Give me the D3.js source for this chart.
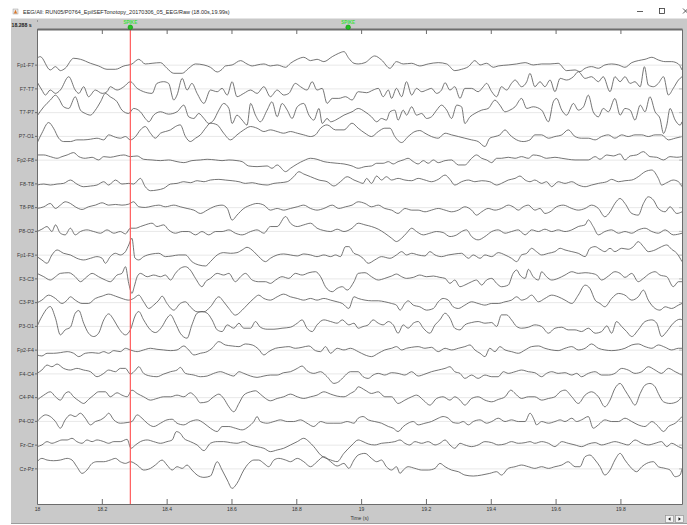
<!DOCTYPE html>
<html>
<head>
<meta charset="utf-8">
<script src="https://cdn.jsdelivr.net/npm/d3@7"></script>
<style>
  html, body { margin: 0; padding: 0; background: #fff; overflow: hidden; }
  svg { display: block; font-family: "Liberation Sans", Arial, sans-serif; }
</style>
</head>
<body>
<svg id="viewer" width="687" height="525"></svg>
<script>
// ---- Recording segment -------------------------------------------------
const figureTitle = "EEG/All: RUN05/P0764_EpilSEFTonotopy_20170306_05_EEG/Raw (18.00s,19.99s)";
const windowStart = 18.0;          // s
const windowEnd = 19.99;           // s
const cursorTime = 18.288;         // s
const timeTicks = [18, 18.2, 18.4, 18.6, 18.8, 19, 19.2, 19.4, 19.6, 19.8];
const eventLabels = ["SPIKE", "SPIKE"];
const eventTimes = [18.288, 18.96];

// Longitudinal bipolar montage, top to bottom
const channelLabels = ["Fp1-F7", "F7-T7", "T7-P7", "P7-O1", "Fp2-F8", "F8-T8", "T8-P8", "P8-O2",
  "Fp1-F3", "F3-C3", "C3-P3", "P3-O1", "Fp2-F4", "F4-C4", "C4-P4", "P4-O2", "Fz-Cz", "Cz-Pz"];

// Traces: [ms after window start, amplitude in µV]
const fp1_f7 = [[0,19],[10,24],[41,-16],[57,-6],[72,-18],[87,-11],[113,19],[134,16],[165,4],[190,-4],[216,-14],[242,-14],[268,-4],[293,2],[314,16],[334,2],[355,4],[381,6],[401,-11],[422,-26],[448,-26],[468,-11],[489,2],[515,-1],[535,-8],[556,-22],[571,-14],[581,-4],[602,-1],[628,12],[648,2],[664,-4],[679,-1],[700,2],[720,-4],[741,-1],[767,-8],[782,4],[803,16],[823,22],[844,12],[864,16],[885,9],[911,24],[931,34],[947,39],[962,19],[978,4],[991,2],[1012,6],[1042,26],[1063,14],[1089,-11],[1109,9],[1130,2],[1156,4],[1181,-4],[1207,2],[1238,6],[1264,2],[1289,-18],[1310,-14],[1331,-6],[1351,12],[1367,-1],[1387,4],[1408,-8],[1423,-4],[1454,-1],[1480,2],[1506,6],[1531,-1],[1557,2],[1583,2],[1608,4],[1634,-18],[1660,-16],[1675,-21],[1691,-11],[1711,-6],[1732,-11],[1752,-1],[1773,2],[1794,-1],[1814,-8],[1835,6],[1855,12],[1876,16],[1897,22],[1917,14],[1938,9],[1958,9],[1979,2],[1990,-16]];
const f7_t7 = [[0,20],[15,-5],[26,-20],[41,-5],[57,-15],[72,-5],[98,35],[118,-5],[129,-15],[144,5],[159,-25],[180,-5],[201,-15],[216,-10],[226,5],[247,-5],[268,5],[288,20],[309,0],[329,-10],[355,-15],[370,15],[391,20],[406,15],[422,-35],[432,-20],[448,30],[463,-5],[478,15],[494,-15],[515,-45],[535,-5],[556,-10],[571,0],[587,-20],[602,20],[617,-25],[638,-15],[659,-5],[679,-15],[700,5],[720,-25],[741,-5],[761,-20],[777,-15],[797,15],[813,5],[833,-5],[849,20],[864,-5],[880,0],[895,-45],[911,-30],[931,-30],[952,-25],[972,-35],[991,-10],[1017,-13],[1037,-5],[1053,0],[1068,-25],[1084,-5],[1094,-30],[1109,0],[1125,-25],[1140,20],[1156,-20],[1171,0],[1187,-10],[1202,-5],[1217,0],[1233,-15],[1248,-5],[1259,17],[1274,-5],[1289,5],[1305,-30],[1320,0],[1341,0],[1361,-10],[1377,5],[1387,15],[1403,-10],[1418,-25],[1433,5],[1449,-5],[1464,15],[1475,25],[1495,5],[1511,20],[1521,45],[1536,5],[1552,20],[1567,5],[1583,25],[1598,-10],[1614,30],[1634,25],[1655,35],[1670,50],[1691,30],[1711,35],[1732,20],[1747,35],[1768,-10],[1783,35],[1799,20],[1814,35],[1830,15],[1845,20],[1861,5],[1874,65],[1886,10],[1902,5],[1917,15],[1933,35],[1948,-20],[1963,0],[1979,25],[1990,35]];
const t7_p7 = [[0,-12],[21,16],[41,36],[57,51],[67,41],[82,16],[98,11],[118,46],[134,6],[149,-4],[165,-9],[180,6],[196,31],[211,56],[226,46],[247,31],[262,6],[283,-4],[298,11],[319,1],[334,-19],[345,-29],[360,-9],[381,1],[406,-6],[432,1],[453,21],[468,-14],[484,-19],[499,-4],[515,-19],[530,-34],[545,-24],[561,6],[576,26],[592,11],[602,-34],[617,-9],[633,-24],[648,-39],[659,26],[674,-9],[689,-29],[710,6],[725,31],[741,-14],[756,26],[772,6],[787,-19],[803,16],[823,26],[839,-9],[854,-24],[870,11],[880,-34],[895,-19],[906,-29],[921,-24],[947,-9],[972,1],[991,11],[1012,1],[1032,-14],[1048,-29],[1063,-19],[1078,-24],[1089,1],[1104,6],[1114,-24],[1130,6],[1140,-9],[1156,16],[1171,-9],[1187,-4],[1202,-19],[1217,-14],[1233,6],[1248,21],[1264,6],[1279,-19],[1295,21],[1310,16],[1320,-34],[1336,-14],[1351,-4],[1372,6],[1392,11],[1413,36],[1428,21],[1444,1],[1459,6],[1475,16],[1495,41],[1511,11],[1531,16],[1557,6],[1578,-29],[1593,31],[1603,41],[1619,6],[1634,-9],[1655,26],[1670,6],[1686,16],[1701,51],[1716,1],[1732,-14],[1747,11],[1763,1],[1783,41],[1799,-9],[1814,11],[1830,6],[1845,-24],[1861,21],[1876,1],[1891,46],[1907,1],[1922,-19],[1933,-64],[1943,-39],[1953,11],[1969,-24],[1984,-39],[1990,-29]];
const p7_o1 = [[0,-22],[15,8],[36,40],[51,23],[67,-7],[82,-17],[103,-17],[123,-12],[144,-12],[165,-10],[185,-7],[206,-12],[221,3],[242,-4],[257,-7],[273,-2],[288,-12],[304,-2],[319,18],[334,28],[350,8],[365,-7],[381,8],[396,13],[412,18],[427,28],[442,33],[458,-2],[473,-17],[489,-7],[504,3],[520,23],[535,38],[556,33],[576,8],[597,-12],[617,3],[638,18],[659,28],[679,23],[700,13],[720,18],[741,13],[761,8],[782,13],[803,8],[823,3],[844,-2],[859,3],[875,23],[895,33],[921,18],[947,18],[972,38],[991,23],[1012,8],[1032,-2],[1053,13],[1073,23],[1089,23],[1104,-2],[1125,-20],[1145,-2],[1166,13],[1181,16],[1197,8],[1217,-2],[1238,-7],[1259,8],[1279,3],[1300,-2],[1320,-7],[1341,-12],[1361,-17],[1382,-32],[1397,-7],[1413,-2],[1428,3],[1444,18],[1459,3],[1480,-12],[1500,-17],[1521,-12],[1536,3],[1557,3],[1578,-7],[1598,-2],[1619,3],[1639,18],[1660,-2],[1680,-7],[1701,-7],[1722,-12],[1742,-2],[1763,3],[1783,-7],[1804,3],[1824,-2],[1845,3],[1866,3],[1886,-2],[1907,3],[1927,3],[1948,-12],[1969,-7],[1990,-2]];
const fp2_f8 = [[0,14],[21,14],[41,9],[62,4],[77,9],[93,14],[113,21],[129,9],[149,4],[170,7],[190,-1],[206,9],[226,7],[247,11],[268,14],[288,9],[309,11],[329,1],[355,-1],[381,-3],[406,-1],[432,-6],[453,-9],[478,-3],[504,-1],[525,1],[551,-1],[571,-3],[592,-1],[617,-3],[633,-6],[653,-19],[679,-21],[710,-19],[725,-26],[741,-16],[767,-36],[782,-26],[803,-13],[823,-3],[844,4],[864,1],[885,-6],[906,-9],[926,-11],[947,-13],[972,-19],[991,-26],[1012,-21],[1032,-19],[1048,-11],[1068,-11],[1084,-6],[1099,-13],[1114,-6],[1130,-1],[1145,4],[1161,-6],[1176,-13],[1192,-3],[1207,-11],[1223,-1],[1238,-9],[1259,-3],[1279,-1],[1300,-16],[1320,-16],[1341,4],[1356,14],[1372,4],[1387,-1],[1403,-9],[1418,4],[1433,4],[1454,7],[1475,4],[1495,9],[1516,4],[1531,14],[1552,11],[1572,4],[1598,7],[1619,4],[1639,1],[1660,-1],[1675,-1],[1701,-1],[1722,9],[1737,1],[1758,14],[1778,11],[1799,17],[1814,-1],[1830,11],[1850,14],[1871,24],[1891,9],[1912,7],[1933,-1],[1953,9],[1974,7],[1990,9]];
const f8_t8 = [[0,-5],[21,-2],[41,-5],[62,-2],[82,0],[103,10],[123,-2],[144,-10],[165,-8],[185,-5],[206,5],[221,-5],[242,10],[262,-2],[283,0],[298,-2],[319,15],[334,-10],[350,-22],[370,-20],[391,-15],[412,-2],[432,0],[453,5],[473,2],[494,8],[515,5],[535,10],[561,12],[581,10],[602,8],[623,5],[643,0],[664,2],[684,-2],[710,-5],[731,0],[751,2],[772,5],[792,20],[808,35],[823,28],[844,20],[870,10],[895,5],[916,-8],[936,5],[957,20],[978,10],[991,5],[1006,0],[1017,15],[1032,0],[1048,22],[1063,10],[1078,20],[1094,10],[1114,15],[1135,10],[1156,8],[1176,15],[1197,10],[1217,5],[1238,12],[1259,25],[1274,12],[1289,-5],[1310,5],[1331,10],[1351,5],[1372,8],[1397,5],[1418,-5],[1433,0],[1454,10],[1475,15],[1490,22],[1506,10],[1521,5],[1536,10],[1557,0],[1572,5],[1588,-10],[1608,5],[1629,0],[1650,5],[1670,-5],[1691,-10],[1711,-5],[1732,0],[1758,5],[1773,12],[1794,5],[1814,8],[1835,10],[1855,20],[1876,35],[1897,40],[1917,15],[1927,-5],[1943,2],[1963,10],[1979,5],[1990,-10]];
const t8_p8 = [[0,-4],[21,1],[41,11],[57,-4],[72,6],[87,16],[103,11],[118,1],[139,-7],[159,1],[180,6],[201,13],[221,6],[242,8],[262,6],[283,9],[298,16],[314,1],[334,-1],[355,3],[376,6],[396,1],[422,6],[442,1],[463,-4],[484,-9],[504,-19],[525,-9],[545,1],[571,6],[587,-4],[602,-39],[617,-24],[638,-4],[659,6],[679,11],[700,6],[720,-9],[741,-4],[761,-9],[782,-4],[803,1],[823,6],[844,-4],[864,-9],[885,-4],[911,6],[931,-4],[952,1],[972,6],[991,16],[1012,11],[1032,1],[1053,6],[1073,-4],[1094,-9],[1114,-19],[1135,-4],[1156,-9],[1176,-9],[1197,-14],[1217,-9],[1238,-4],[1259,-9],[1279,-14],[1300,-9],[1320,1],[1341,-9],[1356,-24],[1372,-14],[1392,-4],[1413,-9],[1433,-4],[1454,6],[1469,1],[1485,-9],[1500,1],[1516,6],[1536,-9],[1552,-4],[1567,-19],[1583,-14],[1603,1],[1624,6],[1650,-4],[1670,-9],[1691,-4],[1711,6],[1732,-4],[1752,-29],[1768,-14],[1783,11],[1799,26],[1814,11],[1835,-19],[1855,-24],[1871,11],[1886,31],[1902,21],[1917,-4],[1938,-14],[1953,1],[1974,-19],[1990,-14]];
const p8_o2 = [[0,-2],[15,5],[31,13],[46,-2],[57,18],[72,-7],[87,-12],[103,8],[118,-12],[134,-2],[154,3],[175,-2],[196,-7],[216,3],[237,-7],[257,-2],[273,-9],[288,8],[304,8],[319,13],[334,18],[355,23],[370,13],[391,18],[406,3],[427,-7],[448,-2],[468,-2],[489,-12],[509,-2],[530,-12],[551,-2],[571,-2],[592,3],[612,-7],[633,-12],[659,-2],[679,3],[700,-7],[720,13],[741,13],[767,43],[782,23],[803,13],[823,18],[844,23],[864,8],[885,1],[906,-2],[926,5],[947,-2],[972,8],[991,23],[1012,18],[1032,13],[1053,5],[1073,-7],[1094,-22],[1109,-32],[1125,-22],[1140,-7],[1156,8],[1171,-2],[1192,-12],[1212,-7],[1233,-2],[1253,-5],[1274,-17],[1295,-12],[1310,-2],[1325,3],[1341,-17],[1361,-27],[1382,-17],[1403,-2],[1423,3],[1444,-7],[1464,-2],[1485,3],[1506,-12],[1526,3],[1547,-2],[1567,5],[1588,-2],[1608,3],[1629,-2],[1650,3],[1670,13],[1691,18],[1701,33],[1716,13],[1732,-12],[1752,-2],[1773,3],[1794,-7],[1814,-2],[1835,-7],[1855,3],[1876,8],[1897,-2],[1917,-7],[1938,3],[1963,-12],[1990,-7]];
const fp1_f3 = [[0,-6],[15,-16],[31,-26],[46,-1],[62,14],[82,4],[103,-1],[123,-11],[144,-16],[165,-11],[185,-6],[201,-11],[211,-26],[226,-6],[242,4],[257,-1],[273,9],[283,29],[293,49],[302,-10],[314,-16],[329,-6],[355,2],[376,4],[396,-6],[417,-4],[437,-1],[458,-1],[478,-21],[499,-31],[520,-34],[535,-21],[556,-1],[576,6],[597,4],[617,6],[633,14],[648,22],[669,9],[684,-6],[705,-21],[720,-11],[741,-1],[761,2],[782,-1],[803,-4],[823,2],[844,-1],[864,-6],[885,-1],[906,-6],[921,-1],[936,-6],[952,24],[962,24],[978,4],[991,-1],[1006,-11],[1022,-26],[1042,-16],[1063,-6],[1089,-11],[1109,-1],[1125,9],[1140,-1],[1156,4],[1176,-1],[1197,-4],[1212,9],[1228,-1],[1248,-6],[1269,-1],[1289,2],[1310,4],[1331,-11],[1346,-1],[1367,-11],[1382,-1],[1403,-6],[1423,6],[1444,-1],[1464,-11],[1480,-21],[1495,-1],[1511,4],[1526,19],[1541,9],[1557,-1],[1578,4],[1598,9],[1614,19],[1629,14],[1650,9],[1670,4],[1691,-6],[1706,19],[1722,24],[1737,16],[1752,9],[1768,19],[1783,9],[1804,19],[1824,16],[1840,24],[1855,39],[1871,24],[1886,9],[1907,14],[1927,24],[1943,29],[1958,16],[1974,4],[1990,-21]];
const f3_c3 = [[0,15],[21,5],[41,-5],[57,5],[72,15],[98,17],[118,5],[134,-10],[154,5],[170,15],[190,5],[211,-5],[226,-10],[247,10],[262,15],[273,35],[283,-15],[293,-45],[300,-25],[309,5],[319,15],[340,5],[360,10],[381,5],[396,10],[412,-5],[427,15],[442,30],[458,35],[473,25],[489,0],[509,-25],[520,-10],[535,0],[556,15],[576,10],[592,15],[612,-10],[628,5],[643,15],[664,-5],[684,-10],[705,-10],[720,-15],[736,-5],[756,5],[777,0],[797,15],[818,10],[839,17],[859,20],[875,5],[890,-25],[911,-40],[926,-30],[942,-25],[957,-35],[978,-10],[991,15],[1012,17],[1032,5],[1053,-5],[1073,0],[1094,7],[1109,13],[1125,5],[1140,0],[1161,3],[1181,10],[1202,5],[1223,7],[1243,3],[1259,0],[1274,-15],[1289,-5],[1305,-25],[1320,-20],[1341,-10],[1356,-5],[1372,-20],[1387,-5],[1403,0],[1418,-15],[1433,-25],[1454,-20],[1469,15],[1480,25],[1490,10],[1506,0],[1516,27],[1531,5],[1547,-5],[1557,20],[1572,5],[1588,-5],[1608,0],[1629,10],[1650,20],[1670,15],[1691,17],[1711,15],[1727,10],[1742,-5],[1763,7],[1783,20],[1799,15],[1814,3],[1835,15],[1855,-10],[1871,0],[1891,15],[1907,20],[1922,10],[1943,5],[1963,-25],[1979,-10],[1990,-10]];
const c3_p3 = [[0,-2],[15,6],[36,21],[57,11],[77,-4],[93,6],[103,16],[118,6],[139,-4],[159,-4],[180,11],[201,18],[221,24],[242,18],[262,11],[283,6],[298,11],[314,21],[329,1],[345,-19],[360,-9],[376,6],[386,18],[401,-4],[422,-24],[442,-4],[458,1],[473,-14],[494,-29],[515,-29],[535,-14],[561,16],[576,1],[592,-19],[612,-39],[633,-24],[648,-9],[669,11],[684,21],[700,11],[720,6],[741,16],[761,24],[782,16],[803,11],[823,6],[844,11],[864,6],[885,11],[906,6],[926,1],[942,-4],[962,-19],[978,16],[991,11],[1012,6],[1032,4],[1053,4],[1073,1],[1094,-4],[1109,-9],[1120,-24],[1135,-4],[1145,4],[1161,-9],[1181,-14],[1202,-24],[1223,-19],[1238,1],[1253,11],[1269,6],[1284,-14],[1300,-19],[1320,-9],[1341,1],[1361,-4],[1382,-9],[1403,-4],[1423,-4],[1444,1],[1464,6],[1480,16],[1495,6],[1511,11],[1526,21],[1547,1],[1567,11],[1588,21],[1608,16],[1629,6],[1650,-4],[1670,21],[1691,51],[1706,41],[1722,6],[1737,-4],[1752,-14],[1773,11],[1794,26],[1814,21],[1835,6],[1855,16],[1871,36],[1886,6],[1907,-19],[1922,-24],[1938,-14],[1958,-19],[1979,-9],[1990,-4]];
const p3_o1 = [[0,-2],[15,28],[41,58],[57,23],[72,-27],[87,-12],[103,-4],[118,38],[129,46],[144,8],[159,-22],[175,-32],[190,-22],[206,18],[221,36],[237,18],[252,-7],[273,-27],[288,-12],[304,33],[314,43],[329,18],[350,-12],[365,-20],[386,-2],[401,23],[412,33],[427,8],[442,-22],[463,-37],[478,3],[494,38],[509,43],[525,38],[540,18],[556,-12],[571,-17],[587,3],[607,-7],[623,8],[638,-7],[659,-7],[674,13],[689,-4],[710,-10],[731,-10],[756,-7],[782,-4],[803,8],[818,18],[833,-7],[849,-17],[864,3],[885,18],[906,13],[926,8],[942,18],[962,3],[978,8],[991,-7],[1006,-2],[1022,3],[1037,18],[1053,8],[1068,3],[1084,13],[1099,3],[1114,-22],[1130,3],[1145,-7],[1161,8],[1176,13],[1192,-7],[1212,-22],[1228,3],[1243,18],[1259,38],[1274,23],[1289,-7],[1305,-12],[1320,3],[1341,10],[1361,13],[1382,8],[1403,10],[1418,-2],[1433,33],[1449,33],[1464,18],[1480,-2],[1495,-7],[1516,-4],[1536,3],[1557,-2],[1578,-22],[1598,-7],[1619,-4],[1639,-12],[1660,-12],[1680,-17],[1701,-7],[1722,-22],[1742,-17],[1758,0],[1773,-22],[1788,13],[1804,-2],[1819,-17],[1835,-32],[1855,-12],[1876,13],[1897,18],[1912,8],[1927,-32],[1943,-17],[1963,8],[1984,20],[1990,18]];
const fp2_f4 = [[0,-16],[15,-19],[31,-11],[51,-11],[72,-9],[93,-6],[113,-11],[129,-21],[149,-11],[170,-9],[190,-11],[206,-6],[221,-11],[237,-3],[257,-6],[273,4],[288,-1],[309,-6],[329,-1],[350,4],[370,1],[391,-1],[412,-3],[432,-1],[453,11],[468,-1],[484,-16],[504,-11],[525,-6],[540,4],[561,24],[581,14],[602,11],[623,9],[643,17],[664,14],[684,1],[700,-16],[715,-6],[736,4],[756,7],[777,9],[797,4],[818,7],[839,11],[859,-3],[875,-6],[890,9],[906,-11],[926,4],[947,-1],[967,4],[991,-6],[1012,-16],[1032,-21],[1053,-11],[1073,-1],[1094,4],[1109,9],[1125,-1],[1140,4],[1156,7],[1176,9],[1197,4],[1217,7],[1238,-6],[1259,4],[1279,-1],[1300,4],[1320,9],[1336,14],[1351,-1],[1367,-11],[1382,-21],[1397,4],[1413,-6],[1428,9],[1444,-1],[1464,-6],[1485,-11],[1506,-1],[1526,9],[1547,11],[1567,4],[1588,-1],[1608,-3],[1629,4],[1650,9],[1670,-1],[1691,4],[1711,17],[1732,4],[1752,-1],[1773,-3],[1794,-1],[1814,4],[1835,14],[1855,17],[1876,9],[1897,4],[1917,14],[1938,7],[1958,-1],[1979,4],[1990,4]];
const f4_c4 = [[0,0],[15,10],[31,25],[46,20],[62,28],[82,15],[103,10],[123,15],[144,10],[165,5],[185,-10],[206,0],[221,10],[242,5],[257,15],[273,15],[288,-2],[304,10],[314,20],[329,0],[350,-8],[370,-10],[391,-2],[412,5],[432,10],[442,18],[458,0],[484,-5],[504,-10],[525,-8],[545,0],[566,5],[587,-2],[607,-8],[623,5],[638,0],[659,-8],[679,-12],[700,-8],[720,-5],[741,-5],[761,2],[782,5],[803,15],[818,22],[833,8],[854,0],[875,5],[895,-10],[916,-30],[931,-25],[947,-10],[967,5],[991,5],[1006,-10],[1022,-15],[1037,-5],[1053,0],[1073,-5],[1094,2],[1114,0],[1135,-5],[1156,5],[1176,-8],[1197,-2],[1217,5],[1238,10],[1259,15],[1274,20],[1289,5],[1305,0],[1320,-15],[1341,-5],[1361,-15],[1382,-5],[1403,-10],[1423,-10],[1439,5],[1454,0],[1475,5],[1495,10],[1516,5],[1536,2],[1557,-10],[1572,0],[1588,5],[1608,0],[1629,2],[1650,-5],[1665,0],[1680,-10],[1701,0],[1722,5],[1742,-5],[1763,-5],[1783,0],[1804,15],[1824,10],[1845,0],[1866,5],[1886,20],[1907,10],[1927,0],[1948,15],[1969,5],[1990,-5]];
const c4_p4 = [[0,-9],[21,6],[41,16],[57,1],[72,-9],[87,11],[98,16],[113,1],[129,-11],[144,-19],[159,-7],[175,6],[190,16],[211,16],[226,1],[247,13],[262,6],[278,1],[293,21],[309,11],[329,1],[350,-9],[370,-4],[391,1],[412,1],[432,6],[453,1],[473,13],[489,1],[504,-17],[525,-14],[545,1],[561,9],[576,-4],[592,-29],[607,-44],[623,-19],[638,6],[659,16],[674,19],[689,9],[705,-4],[720,-11],[741,-4],[761,1],[782,9],[803,1],[823,-4],[844,1],[864,6],[885,16],[906,9],[926,3],[947,1],[967,11],[983,21],[991,31],[1012,21],[1032,11],[1053,16],[1073,1],[1094,1],[1114,-19],[1135,-9],[1156,1],[1171,6],[1192,-9],[1212,-24],[1233,-4],[1253,1],[1274,-9],[1289,1],[1305,-9],[1320,-24],[1341,-4],[1361,1],[1382,-9],[1403,-14],[1423,-7],[1444,1],[1462,21],[1475,11],[1495,-4],[1516,1],[1536,1],[1557,-9],[1578,-4],[1598,1],[1614,16],[1629,21],[1650,1],[1670,-19],[1691,6],[1711,16],[1732,1],[1752,-29],[1768,-9],[1783,26],[1799,41],[1814,21],[1830,-4],[1845,-24],[1861,11],[1876,36],[1891,41],[1907,31],[1917,11],[1933,-14],[1953,-19],[1974,-14],[1990,1]];
const p4_o2 = [[0,-2],[10,8],[26,18],[41,13],[57,-2],[72,-22],[87,3],[103,18],[118,13],[134,23],[149,8],[165,-12],[180,-2],[196,3],[211,13],[221,23],[237,3],[257,-7],[278,-5],[293,-2],[309,18],[324,8],[340,-7],[360,-17],[381,-7],[401,3],[417,5],[432,-7],[453,-12],[473,-2],[494,3],[515,-7],[535,-22],[556,-32],[571,-17],[592,-17],[612,-22],[633,-27],[653,-17],[669,-2],[679,13],[689,-2],[710,-7],[731,-2],[751,3],[772,-2],[792,-2],[813,3],[833,-7],[854,-17],[875,-2],[895,-7],[916,-7],[936,-7],[957,-2],[978,-7],[991,8],[1006,13],[1022,3],[1042,-2],[1063,-7],[1084,-17],[1099,-22],[1114,-32],[1130,-17],[1145,-7],[1161,-2],[1176,-12],[1197,-7],[1217,-2],[1238,8],[1253,13],[1269,8],[1284,-5],[1300,-7],[1315,-2],[1331,-12],[1346,-2],[1367,3],[1387,-7],[1403,-2],[1423,8],[1444,-2],[1464,3],[1485,-2],[1506,-2],[1521,23],[1534,3],[1541,-12],[1557,-2],[1578,-7],[1598,-2],[1614,3],[1629,-2],[1650,8],[1665,-2],[1680,3],[1701,13],[1716,-22],[1732,-12],[1752,3],[1773,-2],[1794,-2],[1814,8],[1835,-2],[1855,-12],[1876,-17],[1897,-2],[1917,-17],[1933,-32],[1948,-17],[1969,-7],[1990,13]];
const fz_cz = [[0,-6],[15,-1],[31,9],[46,4],[62,9],[77,14],[93,14],[108,19],[123,9],[139,4],[154,14],[170,9],[185,14],[206,9],[221,4],[237,9],[257,9],[278,16],[290,-11],[304,-1],[319,9],[340,14],[360,9],[381,4],[401,9],[417,14],[430,39],[442,34],[453,19],[473,9],[494,-1],[515,-18],[535,4],[556,9],[576,9],[597,6],[617,4],[638,9],[659,-1],[679,-6],[700,-11],[720,-21],[741,-16],[761,-11],[782,-1],[803,9],[823,19],[839,9],[854,-6],[875,-31],[906,-46],[926,-51],[947,-26],[972,-1],[991,14],[1006,9],[1022,2],[1042,-1],[1063,4],[1084,6],[1104,9],[1120,14],[1135,4],[1150,-1],[1166,9],[1187,4],[1207,9],[1228,-1],[1243,4],[1259,14],[1274,-1],[1289,-11],[1305,4],[1320,-1],[1341,-6],[1361,-1],[1382,9],[1403,6],[1423,-1],[1444,2],[1464,9],[1485,4],[1506,6],[1521,9],[1536,4],[1557,9],[1578,4],[1598,-6],[1619,9],[1639,4],[1660,-1],[1680,-6],[1701,2],[1722,6],[1742,-1],[1763,4],[1783,9],[1804,4],[1824,-1],[1845,14],[1866,4],[1886,-1],[1907,4],[1927,9],[1943,-6],[1958,4],[1979,-6],[1990,-11]];
const cz_pz = [[0,20],[15,30],[31,25],[51,23],[72,25],[93,30],[108,25],[123,5],[139,-15],[154,-5],[170,15],[185,20],[206,20],[226,25],[242,30],[257,20],[273,15],[288,20],[309,10],[329,-5],[350,0],[365,10],[386,25],[401,10],[417,-5],[432,5],[448,0],[463,10],[478,-5],[494,-20],[515,-27],[535,-23],[556,20],[571,-5],[587,-35],[602,-60],[617,-45],[638,-5],[653,15],[669,25],[684,25],[700,15],[715,5],[731,25],[746,30],[767,25],[782,20],[803,30],[823,20],[844,5],[864,20],[885,35],[906,20],[926,7],[947,15],[962,0],[978,25],[991,40],[1012,45],[1032,30],[1048,20],[1063,25],[1078,5],[1094,-5],[1109,5],[1120,-15],[1130,-5],[1145,5],[1166,0],[1187,-5],[1207,-5],[1228,0],[1243,15],[1259,5],[1279,-5],[1300,-10],[1320,-20],[1346,-23],[1372,-20],[1397,-15],[1418,-10],[1433,-20],[1454,0],[1475,5],[1495,10],[1516,5],[1536,0],[1557,5],[1578,0],[1598,5],[1619,10],[1639,20],[1660,5],[1675,5],[1691,35],[1706,40],[1722,25],[1737,5],[1752,-20],[1768,-5],[1783,25],[1799,45],[1814,25],[1830,5],[1850,-10],[1866,5],[1881,15],[1902,20],[1917,5],[1938,0],[1953,-5],[1969,-25],[1984,-20],[1990,0]];

const traces = [fp1_f7, f7_t7, t7_p7, p7_o1, fp2_f8, f8_t8, t8_p8, p8_o2,
  fp1_f3, f3_c3, c3_p3, p3_o1, fp2_f4, f4_c4, c4_p4, p4_o2, fz_cz, cz_pz];

// ---- Layout ------------------------------------------------------------
const W = 687, H = 525;
const plot = { left: 37, right: 682, top: 29, bottom: 504 };
const panelGrey = "#c9c9c9";
const axisGrey = "#6c6c6c";
const traceColor = "#5c5c5c";

const svg = d3.select("#viewer");

const x = d3.scaleLinear().domain([windowStart, windowEnd]).range([plot.left, plot.right]);
// one row per channel, with 1.5 empty rows above and below the montage
const row = d3.scaleLinear().domain([-1.5, channelLabels.length + 0.5]).range([plot.top, plot.bottom]);
// display gain: 3 µV per pixel, positive up
const amp = d3.scaleLinear().domain([-3, 3]).range([1, -1]);

// ---- Window chrome -----------------------------------------------------
svg.append("rect").attr("width", W).attr("height", H).attr("fill", "#ffffff");
svg.append("rect").attr("x", 11).attr("y", 18.5).attr("width", W - 11).attr("height", 505.5).attr("fill", panelGrey);
svg.append("line").attr("x1", 11).attr("x2", W).attr("y1", 523.5).attr("y2", 523.5).attr("stroke", "#9c9c9c");

// title bar
const icon = svg.append("g").attr("transform", "translate(13,9)");
icon.append("rect").attr("width", 5).attr("height", 5).attr("fill", "#e8e8e8").attr("stroke", "#8a8a8a").attr("stroke-width", 0.4);
icon.append("path").attr("d", "M0.8,4.4 L2.5,0.8 L4.2,4.4 Z").attr("fill", "#d9772b");
svg.append("text").attr("x", 23).attr("y", 13.8).attr("font-size", 5.5).attr("fill", "#2a2a2a")
  .text(figureTitle);
svg.append("line").attr("x1", 637).attr("x2", 643).attr("y1", 11.5).attr("y2", 11.5).attr("stroke", "#333").attr("stroke-width", 0.8);
svg.append("rect").attr("x", 659.5).attr("y", 8.5).attr("width", 5).attr("height", 5).attr("fill", "none").attr("stroke", "#333").attr("stroke-width", 0.8);
svg.append("path").attr("d", "M683,8.5 L688,13.5 M688,8.5 L683,13.5").attr("stroke", "#333").attr("stroke-width", 0.8);

// ---- Plot area ---------------------------------------------------------
svg.append("rect").attr("x", plot.left).attr("y", plot.top)
  .attr("width", plot.right - plot.left).attr("height", plot.bottom - plot.top).attr("fill", "#ffffff");

// channel baselines
svg.append("g").selectAll("line").data(channelLabels).join("line")
  .attr("x1", plot.left).attr("x2", plot.right)
  .attr("y1", (d, i) => row(i) + 0.5).attr("y2", (d, i) => row(i) + 0.5)
  .attr("stroke", "#e8e8e8").attr("stroke-width", 1);

svg.append("clipPath").attr("id", "plot-clip").append("rect")
  .attr("x", plot.left).attr("y", plot.top)
  .attr("width", plot.right - plot.left).attr("height", plot.bottom - plot.top);

const traceLayer = svg.append("g").attr("clip-path", "url(#plot-clip)");
traces.forEach((samples, i) => {
  const line = d3.line()
    .x(d => x(windowStart + d[0] / 1000))
    .y(d => row(i) + amp(d[1]))
    .curve(d3.curveMonotoneX);
  traceLayer.append("path")
    .attr("d", line(samples))
    .attr("fill", "none")
    .attr("stroke", traceColor)
    .attr("stroke-width", 0.85)
    .attr("stroke-linejoin", "round");
});

// time cursor
svg.append("line")
  .attr("x1", x(cursorTime)).attr("x2", x(cursorTime))
  .attr("y1", plot.top).attr("y2", plot.bottom)
  .attr("stroke", "#ff5b5b").attr("stroke-width", 1.2);

// ---- Axes --------------------------------------------------------------
const fmt = d => String(+d.toFixed(1));

const bottomAxis = svg.append("g").attr("transform", `translate(0,${plot.bottom})`)
  .call(d3.axisBottom(x).tickValues(timeTicks).tickFormat(fmt).tickSizeInner(-5).tickSizeOuter(0).tickPadding(3));
bottomAxis.selectAll("text").attr("font-size", 5).attr("fill", "#333");

const topAxis = svg.append("g").attr("transform", `translate(0,${plot.top})`)
  .call(d3.axisBottom(x).tickValues(timeTicks).tickFormat("").tickSizeInner(5).tickSizeOuter(0));
topAxis.select(".domain").attr("stroke-width", 2);

const leftAxis = svg.append("g").attr("transform", `translate(${plot.left},0)`)
  .call(d3.axisLeft(row).tickValues(d3.range(channelLabels.length)).tickFormat(i => channelLabels[i])
    .tickSizeInner(2).tickSizeOuter(0).tickPadding(1));
leftAxis.selectAll("text").attr("font-size", 5.3).attr("fill", "#3a3a3a");

const rightAxis = svg.append("g").attr("transform", `translate(${plot.right},0)`)
  .call(d3.axisLeft(row).tickValues(d3.range(channelLabels.length)).tickFormat("").tickSizeInner(3).tickSizeOuter(0));
rightAxis.selectAll(".tick line").attr("stroke", "#bdbdbd");

[bottomAxis, topAxis, leftAxis, rightAxis].forEach(g => {
  g.select(".domain").attr("stroke", axisGrey);
  g.attr("font-family", null);
});
bottomAxis.selectAll(".tick line").attr("stroke", axisGrey);
topAxis.selectAll(".tick line").attr("stroke", axisGrey);
leftAxis.selectAll(".tick line").attr("stroke", axisGrey);

// small mark at the start of the time strip
svg.append("line").attr("x1", plot.left + 0.5).attr("x2", plot.left + 0.5).attr("y1", 20).attr("y2", 22)
  .attr("stroke", "#777").attr("stroke-width", 0.6);

svg.append("text").attr("x", (plot.left + plot.right) / 2).attr("y", 519.5)
  .attr("text-anchor", "middle").attr("font-size", 5).attr("fill", "#333").text("Time (s)");

// ---- Cursor readout and event markers ---------------------------------
svg.append("text").attr("x", 11.5).attr("y", 26.5).attr("font-size", 5.2).attr("font-weight", "bold")
  .attr("fill", "#222").text(`${cursorTime.toFixed(3)} s`);

const events = svg.append("g").selectAll("g").data(eventTimes).join("g")
  .attr("transform", t => `translate(${x(t)},0)`);
events.append("text").attr("y", 23.8).attr("text-anchor", "middle").attr("font-size", 4.6)
  .attr("font-weight", "bold").attr("fill", "#3fe03f").text((t, i) => eventLabels[i]);
events.append("circle").attr("cy", 27.3).attr("r", 2.3)
  .attr("fill", "#1fc41f").attr("stroke", "#138a13").attr("stroke-width", 0.6);

// ---- Page buttons ------------------------------------------------------
const buttons = svg.append("g").selectAll("g").data(["left", "right"]).join("g")
  .attr("transform", (d, i) => `translate(${665.5 + i * 10},515.5)`);
buttons.append("rect").attr("width", 8).attr("height", 7).attr("fill", "#f2f2f2").attr("stroke", "#8c8c8c").attr("stroke-width", 0.6);
buttons.append("path").attr("d", d => d === "left" ? "M5,1.8 L2.6,3.5 L5,5.2 Z" : "M3,1.8 L5.4,3.5 L3,5.2 Z").attr("fill", "#111");
</script>
</body>
</html>
